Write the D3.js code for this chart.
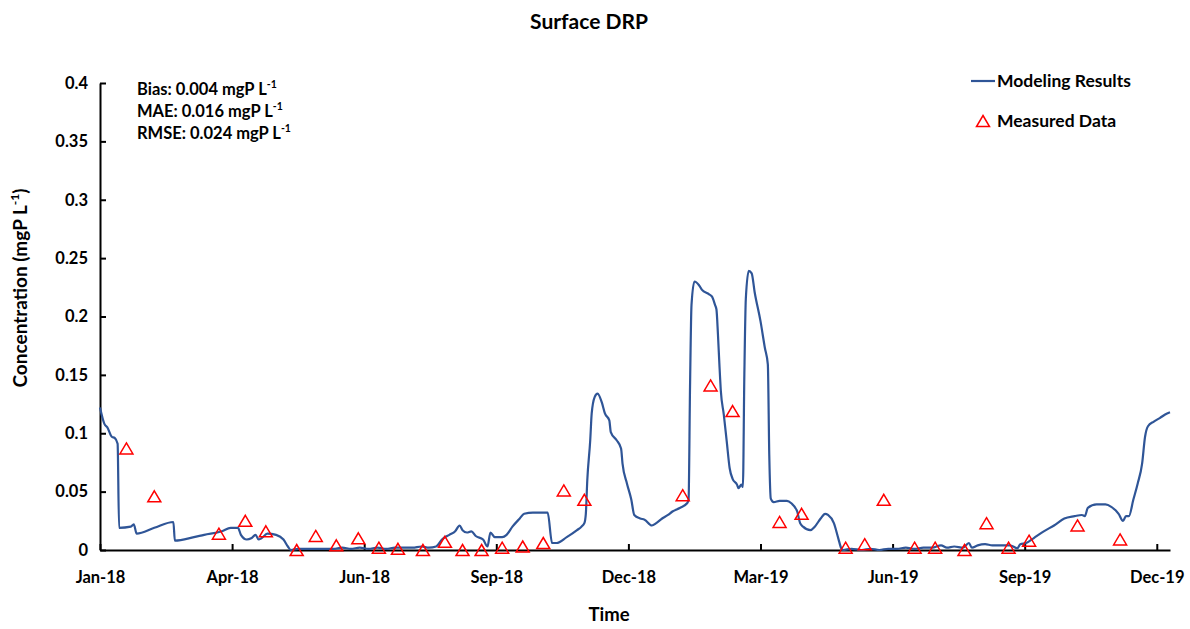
<!DOCTYPE html>
<html>
<head>
<meta charset="utf-8">
<script src="https://cdn.jsdelivr.net/npm/d3@7"></script>
<style>
  body { margin: 0; background: #fff; }
  text { font-family: Lato, "Open Sans", sans-serif; font-weight: bold; fill: #000; }
</style>
</head>
<body>
<svg width="1190" height="629"></svg>
<script>
// modeled surface DRP (mgP/L)
var modelDates = [
  "2018-01-01","2018-01-04","2018-01-06","2018-01-09","2018-01-11","2018-01-13","2018-01-14",
  "2018-01-22","2018-01-24","2018-01-26","2018-02-07","2018-02-20","2018-02-21","2018-03-06",
  "2018-03-13","2018-03-25","2018-03-31","2018-04-05","2018-04-07","2018-04-11","2018-04-14",
  "2018-04-17","2018-04-19","2018-04-21","2018-04-25","2018-05-01","2018-05-06","2018-05-09",
  "2018-05-11","2018-05-16","2018-05-22","2018-05-28","2018-06-03","2018-06-09","2018-06-15",
  "2018-06-21","2018-06-27","2018-07-03","2018-07-09","2018-07-15","2018-07-21","2018-07-27",
  "2018-08-02","2018-08-08","2018-08-13","2018-08-18","2018-08-22","2018-08-27","2018-08-31",
  "2018-09-03","2018-09-05","2018-09-08","2018-09-11","2018-09-14","2018-09-19","2018-09-22",
  "2018-09-24","2018-09-27","2018-10-02","2018-10-05","2018-10-09","2018-10-14","2018-10-17",
  "2018-10-23","2018-11-01","2018-11-02","2018-11-05","2018-11-08","2018-11-15","2018-11-22",
  "2018-11-25","2018-11-27","2018-11-28","2018-11-29","2018-12-01","2018-12-02","2018-12-04",
  "2018-12-06","2018-12-09","2018-12-11","2018-12-14","2018-12-15","2018-12-19","2018-12-22",
  "2018-12-23","2018-12-26","2018-12-29","2018-12-31","2019-01-04","2019-01-07","2019-01-12",
  "2019-01-15","2019-01-19","2019-01-23","2019-01-26","2019-01-31","2019-02-05","2019-02-06",
  "2019-02-07","2019-02-08","2019-02-10","2019-02-13","2019-02-15","2019-02-20","2019-02-22",
  "2019-02-24","2019-02-25","2019-02-26","2019-02-27","2019-02-28","2019-03-02","2019-03-04",
  "2019-03-06","2019-03-08","2019-03-11","2019-03-12","2019-03-14","2019-03-15","2019-03-16",
  "2019-03-17","2019-03-19","2019-03-21","2019-03-23","2019-03-27","2019-03-30","2019-04-01",
  "2019-04-02","2019-04-03","2019-04-05","2019-04-09","2019-04-14","2019-04-17","2019-04-21",
  "2019-04-23","2019-04-25","2019-04-30","2019-05-03","2019-05-07","2019-05-10","2019-05-12",
  "2019-05-16","2019-05-19","2019-05-21","2019-05-22","2019-05-28","2019-06-04","2019-06-10",
  "2019-06-16","2019-06-22","2019-06-28","2019-07-04","2019-07-10","2019-07-16","2019-07-22",
  "2019-07-28","2019-08-01","2019-08-06","2019-08-12","2019-08-16","2019-08-18","2019-08-22",
  "2019-08-27","2019-09-01","2019-09-06","2019-09-13","2019-09-18","2019-09-20","2019-09-24",
  "2019-09-29","2019-10-06","2019-10-13","2019-10-20","2019-10-27","2019-11-01","2019-11-03",
  "2019-11-05","2019-11-11","2019-11-17","2019-11-21","2019-11-26","2019-11-29","2019-12-01",
  "2019-12-03","2019-12-06","2019-12-09","2019-12-12","2019-12-14","2019-12-16","2019-12-20",
  "2019-12-24","2019-12-29","2019-12-31"
];
var modelValues = [
  0.122,0.108,0.105,0.097,0.096,0.091,0.019,
  0.020,0.022,0.014,0.019,0.024,0.008,0.011,
  0.013,0.016,0.019,0.019,0.013,0.009,0.010,
  0.013,0.009,0.010,0.014,0.013,0.009,0.003,
  0.000,0.001,0.001,0.001,0.001,0.001,0.002,
  0.001,0.002,0.001,0.002,0.001,0.002,0.002,
  0.002,0.003,0.002,0.003,0.009,0.013,0.016,
  0.021,0.017,0.015,0.016,0.012,0.009,0.003,
  0.015,0.011,0.011,0.013,0.020,0.027,0.031,
  0.032,0.032,0.032,0.006,0.006,0.011,0.017,
  0.020,0.023,0.031,0.060,0.094,0.117,0.131,
  0.134,0.126,0.117,0.111,0.101,0.094,0.087,
  0.074,0.057,0.043,0.030,0.027,0.026,0.021,
  0.023,0.027,0.030,0.033,0.036,0.040,0.043,
  0.140,0.210,0.230,0.227,0.223,0.219,0.217,
  0.210,0.206,0.185,0.159,0.136,0.116,0.093,
  0.070,0.061,0.056,0.053,0.056,0.054,0.150,
  0.215,0.239,0.237,0.221,0.196,0.173,0.159,
  0.080,0.044,0.041,0.042,0.042,0.040,0.033,
  0.023,0.020,0.017,0.020,0.027,0.031,0.030,
  0.023,0.010,0.0015,0.000,0.001,0.000,0.001,
  0.000,0.001,0.001,0.002,0.001,0.002,0.002,
  0.004,0.002,0.003,0.002,0.006,0.002,0.004,
  0.005,0.004,0.004,0.004,0.0015,0.005,0.006,
  0.010,0.016,0.021,0.027,0.029,0.030,0.029,
  0.036,0.039,0.039,0.037,0.031,0.025,0.029,
  0.029,0.043,0.057,0.074,0.097,0.106,0.110,
  0.113,0.117,0.118
];

// measured surface DRP (mgP/L)
var measuredDates = [
  "2018-01-19","2018-02-07","2018-03-23","2018-04-10","2018-04-24","2018-05-15","2018-05-28",
  "2018-06-11","2018-06-26","2018-07-10","2018-07-23","2018-08-09","2018-08-24","2018-09-05",
  "2018-09-18","2018-10-02","2018-10-16","2018-10-30","2018-11-13","2018-11-27","2019-02-02",
  "2019-02-21","2019-03-08","2019-04-09","2019-04-24","2019-05-24","2019-06-06","2019-06-19",
  "2019-07-10","2019-07-24","2019-08-13","2019-08-28","2019-09-12","2019-09-26","2019-10-29",
  "2019-11-27"
];
var measuredValues = [
  0.087,0.046,0.014,0.025,0.016,0.000,0.012,
  0.004,0.010,0.002,0.001,0.000,0.007,0.000,
  0.000,0.002,0.003,0.006,0.051,0.043,0.047,
  0.141,0.119,0.024,0.031,0.002,0.005,0.043,
  0.002,0.002,0.000,0.023,0.002,0.008,0.021,
  0.009
];

var xTickDates = ["2018-01-01","2018-04-01","2018-06-30","2018-09-28","2018-12-27",
                  "2019-03-27","2019-06-25","2019-09-23","2019-12-22"];
var xTickLabels = ["Jan-18","Apr-18","Jun-18","Sep-18","Dec-18","Mar-19","Jun-19","Sep-19","Dec-19"];
var yTicks = [0, 0.05, 0.1, 0.15, 0.2, 0.25, 0.3, 0.35, 0.4];
var yTickLabels = ["0","0.05","0.1","0.15","0.2","0.25","0.3","0.35","0.4"];

var parse = d3.timeParse("%Y-%m-%d");
var model = modelDates.map((d, i) => ({date: parse(d), value: modelValues[i]}));
var measured = measuredDates.map((d, i) => ({date: parse(d), value: measuredValues[i]}));

var margin = {left: 100, right: 20, top: 83, bottom: 79};
var width = 1190, height = 629;

var svg = d3.select("svg");

var x = d3.scaleTime()
  .domain([parse("2018-01-01"), parse("2019-12-31")])
  .range([margin.left, width - margin.right]);

var y = d3.scaleLinear()
  .domain([0, 0.4])
  .range([height - margin.bottom, margin.top]);

var lineColor = "#2F5597";

// axes, ticks point inward like the excel original
var xAxis = d3.axisBottom(x)
  .tickValues(xTickDates.map(parse))
  .tickFormat((d, i) => xTickLabels[i])
  .tickSizeInner(-6).tickSizeOuter(0).tickPadding(27);

var yAxis = d3.axisLeft(y)
  .tickValues(yTicks)
  .tickFormat((d, i) => yTickLabels[i])
  .tickSizeInner(-6).tickSizeOuter(0).tickPadding(12);

var gx = svg.append("g")
  .attr("transform", "translate(0," + y(0) + ")")
  .call(xAxis);
var gy = svg.append("g")
  .attr("transform", "translate(" + margin.left + ",0)")
  .call(yAxis);

[gx, gy].forEach(g => {
  g.select(".domain").attr("stroke", "#000").attr("stroke-width", 2);
  g.selectAll(".tick line").attr("stroke", "#000").attr("stroke-width", 2);
  g.selectAll(".tick text").attr("font-size", 16.5).attr("font-family", "Lato, sans-serif").attr("font-weight", "bold");
});
gx.selectAll(".tick text").attr("dy", "0.35em");

// modeled line
var line = d3.line()
  .x(d => x(d.date))
  .y(d => y(d.value))
  .curve(d3.curveMonotoneX);

svg.append("path")
  .datum(model)
  .attr("fill", "none")
  .attr("stroke", lineColor)
  .attr("stroke-width", 2.2)
  .attr("stroke-linejoin", "round")
  .attr("d", line);

// measured points as hollow triangles
var tri = "M0,-5.5L6.5,5.5L-6.5,5.5Z";
svg.append("g")
  .selectAll("path")
  .data(measured)
  .enter()
  .append("path")
  .attr("d", tri)
  .attr("transform", d => "translate(" + x(d.date) + "," + y(d.value) + ")")
  .attr("fill", "none")
  .attr("stroke", "#FF0000")
  .attr("stroke-width", 1.5);

// titles
svg.append("text")
  .attr("x", 589).attr("y", 29)
  .attr("text-anchor", "middle")
  .attr("font-size", 21)
  .text("Surface DRP");

svg.append("text")
  .attr("x", 609).attr("y", 621)
  .attr("text-anchor", "middle")
  .attr("font-size", 18.5)
  .text("Time");

var ylab = svg.append("text")
  .attr("transform", "translate(27,288)rotate(-90)")
  .attr("text-anchor", "middle")
  .attr("font-size", 19);
ylab.append("tspan").text("Concentration (mgP L");
ylab.append("tspan").attr("font-size", 12).attr("dy", -8).text("-1");
ylab.append("tspan").attr("dy", 8).text(")");

// stats box
var stats = [["Bias: 0.004 mgP L", 95], ["MAE: 0.016 mgP L", 117], ["RMSE: 0.024 mgP L", 139]];
stats.forEach(s => {
  var t = svg.append("text").attr("x", 137).attr("y", s[1]).attr("font-size", 16.5);
  t.append("tspan").text(s[0]);
  t.append("tspan").attr("font-size", 10.5).attr("dy", -7).text("-1");
});

// legend
svg.append("line")
  .attr("x1", 971).attr("x2", 995).attr("y1", 81).attr("y2", 81)
  .attr("stroke", lineColor).attr("stroke-width", 2.2);
svg.append("text")
  .attr("x", 997).attr("y", 87).attr("font-size", 17.5)
  .text("Modeling Results");
svg.append("path")
  .attr("d", tri)
  .attr("transform", "translate(983,121)")
  .attr("fill", "none").attr("stroke", "#FF0000").attr("stroke-width", 1.5);
svg.append("text")
  .attr("x", 997).attr("y", 127).attr("font-size", 17.5)
  .text("Measured Data");
</script>
</body>
</html>
